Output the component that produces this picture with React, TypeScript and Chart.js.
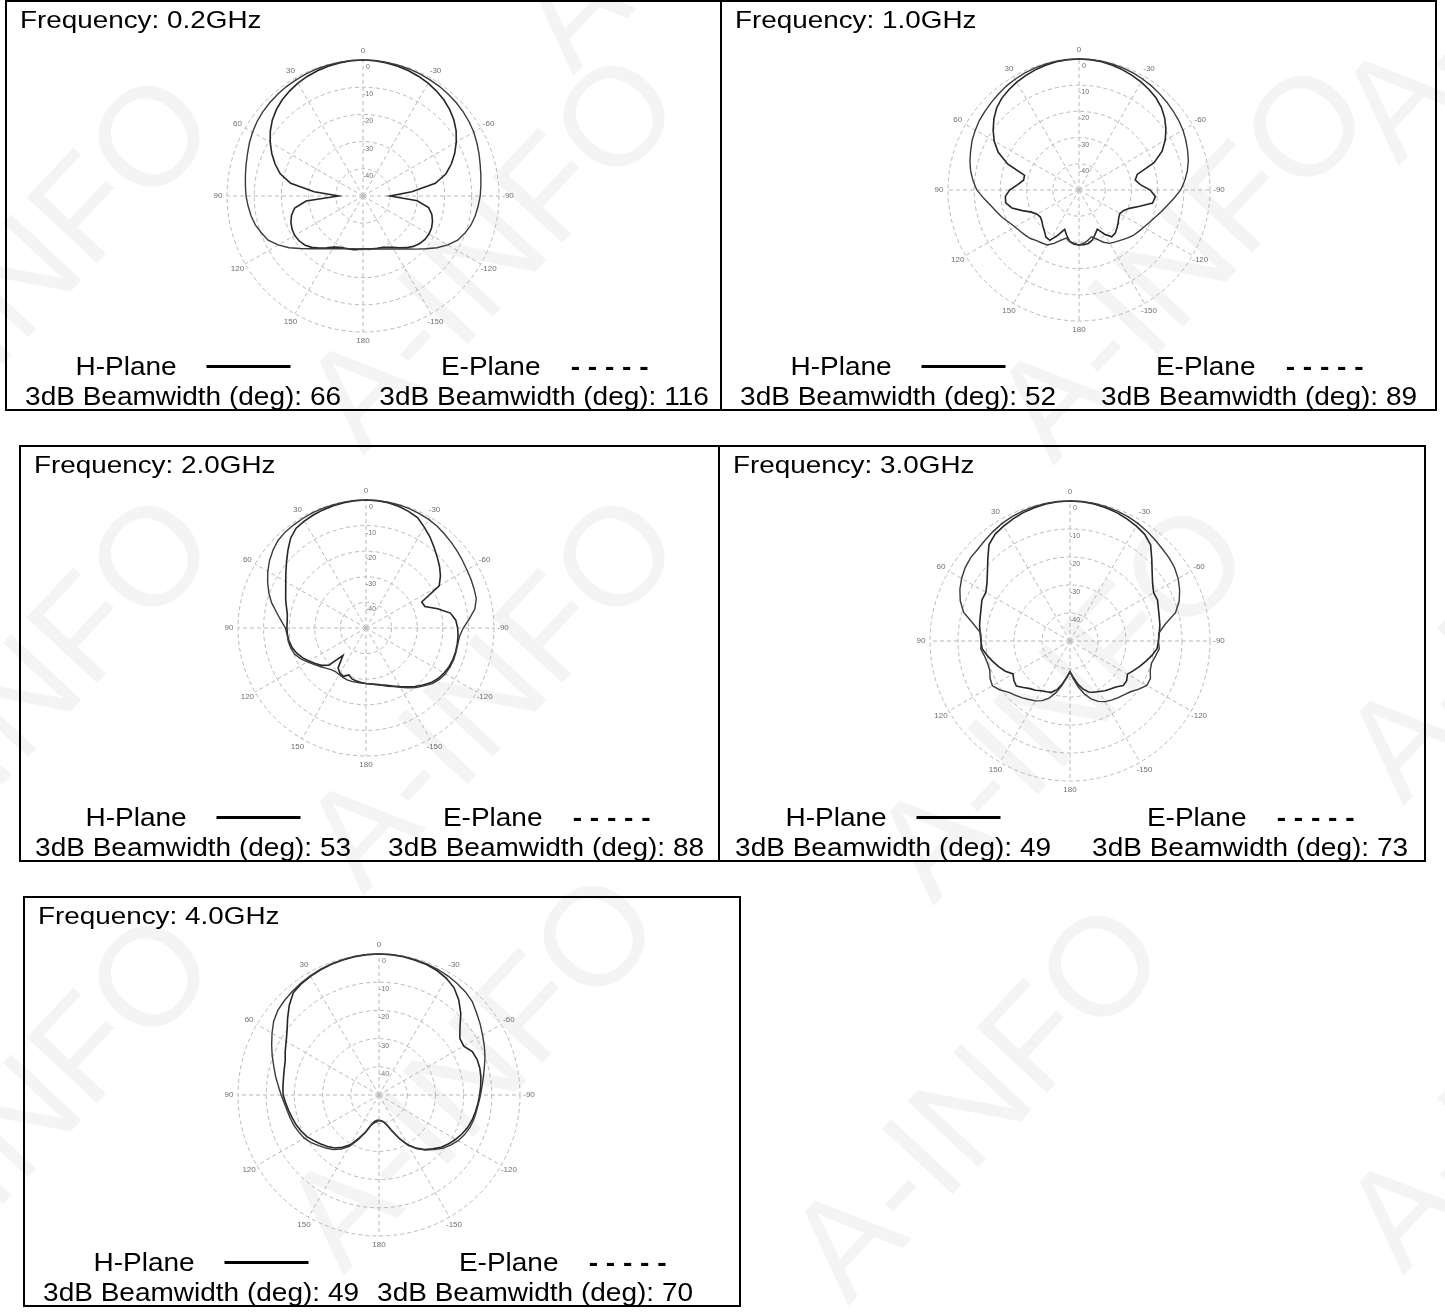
import React, { useEffect, useRef } from 'react';
import { Chart, registerables } from 'chart.js';

Chart.register(...registerables);

// Angle categories in degrees, in the order the radar draws them (clockwise from the top):
// 0, -5, ..., -175, 180, 175, ..., 5
const ANGLES: number[] = Array.from({ length: 72 }, (_, i) => (i <= 35 ? (i === 0 ? 0 : -5 * i) : 360 - 5 * i));
const ANGLE_TICKS = [0, -30, -60, -90, -120, -150, 180, 150, 120, 90, 60, 30];
const DB_TICKS = [0, -10, -20, -30, -40];
const DB_MIN = -50;
const DB_MAX = 0;

const FREQUENCIES = ['0.2', '1.0', '2.0', '3.0', '4.0'];
const H_BEAMWIDTH = [66, 52, 53, 49, 49];
const E_BEAMWIDTH = [116, 89, 88, 73, 70];

// Relative gain (dB), one value per entry of ANGLES
const H_02 = [0, -0.1, -0.3, -0.6, -1, -1.5, -2.1, -2.9, -3.8, -5, -6.4, -8.2, -10.4, -12.8, -15.4, -18.4, -23, -32, -40, -30, -25.5, -23.8, -22.8, -22.2, -22, -22.2, -22.8, -23.8, -25.2, -26.8, -28.2, -29.2, -29.8, -30.1, -30.3, -30.5, -30.6,
  -30.3, -30, -29.8, -29.6, -29.2, -28.3, -26.8, -25, -23.3, -22, -21.3, -21, -21.2, -21.8, -22.8, -24.5, -29, -41, -32, -23, -18.5, -15.6, -13, -10.6, -8.4, -6.5, -5, -3.8, -2.9, -2.1, -1.5, -1, -0.6, -0.3, -0.1];
const E_02 = [0, 0, -0.1, -0.2, -0.3, -0.5, -0.7, -0.9, -1.2, -1.5, -1.9, -2.4, -3.0, -3.8, -4.6, -5.4, -6.0, -6.5, -6.9, -7.5, -8.1, -8.9, -10.1, -11.6, -14, -16.8, -19.8, -22.4, -24.6, -26.2, -27.5, -28.5, -29.3, -29.8, -30.2, -30.5, -30.6,
  -30.5, -30.3, -29.9, -29.4, -28.6, -27.6, -26.3, -24.7, -22.6, -20, -16.8, -14, -11.5, -10.3, -9.0, -8.2, -7.6, -7.0, -6.6, -6.1, -5.5, -4.8, -3.9, -3.1, -2.4, -1.9, -1.5, -1.2, -0.9, -0.7, -0.5, -0.3, -0.2, -0.1, 0];

const H_10 = [0, -0.1, -0.3, -0.7, -1.2, -1.8, -2.5, -3.3, -4.2, -5.5, -7.3, -9.5, -12, -15, -19.5, -27, -28.2, -26.5, -22.8, -20.7, -21.5, -26, -29.5, -31.3, -32, -31.5, -30.5, -29.5, -28.5, -28.2, -30.5, -33.5, -32, -30.2, -29.3, -29, -29,
  -29.2, -30, -32, -34, -31, -27.8, -28, -29.5, -30.5, -31.5, -32, -31.5, -30, -27, -23.5, -21.6, -21.8, -23.5, -26.5, -28.5, -28.5, -21, -16, -12.6, -10, -7.6, -5.6, -4.2, -3.3, -2.5, -1.8, -1.2, -0.7, -0.3, -0.1];
const E_10 = [0, 0, -0.1, -0.3, -0.5, -0.8, -1.2, -1.6, -2.1, -2.6, -3.1, -3.6, -4.2, -5, -5.9, -6.8, -8, -9.5, -11.2, -13.6, -15.8, -17.6, -19.2, -20.5, -21.5, -22.3, -23, -24, -25, -25.8, -26.5, -28, -30, -31.5, -30.5, -29.5, -29,
  -29.5, -30, -31, -29.5, -27.5, -25.8, -25.3, -24.8, -23.8, -23.2, -22.6, -21.8, -20.6, -19, -17.5, -15.8, -13.5, -11, -9.4, -8, -6.9, -6, -5, -4.3, -3.6, -3.2, -2.7, -2.2, -1.6, -1.2, -0.8, -0.5, -0.3, -0.1, 0];

const H_20 = [0, -0.1, -0.3, -0.8, -1.5, -2.4, -4.5, -6.5, -8.7, -10.7, -12.5, -14.5, -17, -26, -25.5, -21, -16.5, -14.8, -14.2, -13.9, -13.8, -13.8, -13.9, -14.2, -14.8, -15.6, -16.8, -18.5, -20.2, -22, -23.6, -25, -26.2, -27, -27.7, -28.1, -28.3,
  -28.6, -29, -29.3, -30.5, -29.2, -29.6, -31, -36, -29.5, -27.3, -25.8, -24.2, -22.6, -21.2, -20.2, -19.5, -19.2, -19.1, -19.1, -18.8, -17.8, -16.6, -15.4, -13.8, -11.8, -9.5, -6.9, -4.2, -2.4, -1.8, -1.3, -0.9, -0.6, -0.3, -0.1];
const E_20 = [0, 0, -0.1, -0.2, -0.4, -0.7, -1.0, -1.5, -2.2, -2.8, -3.4, -4.0, -4.5, -4.8, -5.1, -5.4, -6.8, -9.5, -12, -13.3, -13.6, -13.6, -13.6, -13.8, -14.2, -15, -16.2, -18, -19.6, -21.5, -23.2, -24.8, -25.8, -26.8, -27.5, -28, -28.3,
  -28.4, -28.5, -28.4, -28.4, -28.7, -29, -29.2, -28.8, -27.8, -26.6, -25.2, -23.5, -21.7, -20.3, -19.6, -19.2, -19.1, -18.5, -16.7, -14.5, -11.8, -9.6, -7.6, -5.7, -4.0, -2.6, -1.5, -1.0, -0.8, -0.6, -0.4, -0.3, -0.2, -0.1, 0];

const H_30 = [0, -0.1, -0.3, -0.7, -1.2, -1.9, -2.6, -3.5, -5.2, -8.7, -11.7, -14, -15.5, -15.5, -16.4, -17, -17.4, -18, -18.4, -18.8, -20.3, -22, -23.5, -25, -26.3, -25.3, -25.2, -26.8, -27.6, -28.3, -29.2, -29.8, -30.6, -32.3, -34.5, -37, -39,
  -37, -34.5, -32, -30.5, -30, -29.5, -28.5, -27.8, -26.5, -25, -25.5, -26.5, -24.5, -23, -21.5, -20, -18.5, -18.2, -17.8, -17.2, -16.8, -16.2, -15.3, -15.3, -13.8, -11.5, -8.5, -5, -3.4, -2.6, -1.9, -1.2, -0.7, -0.3, -0.1];
const E_30 = [0, 0, -0.1, -0.3, -0.6, -1, -1.5, -2.1, -2.8, -3.4, -3.8, -4.4, -5.4, -6.8, -8.5, -11, -15.5, -18.2, -18.4, -18, -19, -19.8, -19.5, -18.3, -18.3, -20, -21.8, -22.8, -23.5, -24.2, -25, -26.2, -28, -30.5, -33.5, -36.5, -39,
  -37, -34, -31, -28.3, -26.5, -25.3, -24.5, -23.5, -22.5, -21.5, -19.5, -18, -18.5, -19.5, -19.5, -19, -18, -18.3, -18, -15, -10.7, -8.3, -6.6, -5.3, -4.3, -3.7, -3.5, -2.9, -2.2, -1.5, -1, -0.6, -0.3, -0.1, 0];

const H_40 = [0, -0.1, -0.2, -0.5, -0.8, -1.3, -2.2, -3.6, -6, -9, -12.5, -15, -15.3, -13.5, -13, -13, -13.3, -13.8, -14.3, -14.8, -15.3, -15.8, -16.5, -17.5, -18.6, -19.8, -21.2, -23, -24.8, -27, -29.6, -33, -36.5, -39, -40.3, -40.8, -41,
  -40.5, -40, -38.8, -36, -33, -29.6, -27.4, -25.5, -24.2, -23, -21.8, -20.5, -19.6, -18.8, -18.2, -17.5, -16.8, -16, -15.8, -15.6, -15.2, -14.6, -13.3, -12, -10.2, -7.7, -5, -2.7, -1.9, -1.4, -1, -0.7, -0.4, -0.2, -0.1];
const E_40 = [0, 0, -0.1, -0.3, -0.5, -0.8, -1.2, -1.7, -2.3, -3.2, -4.8, -6.2, -7.6, -8.8, -10, -11.3, -12.4, -13.3, -14, -14.6, -15, -15.3, -15.8, -16.6, -17.6, -19, -20.6, -22.6, -24.5, -26.8, -29.5, -33, -36.3, -38.8, -40.2, -40.8, -41,
  -41, -40.5, -39, -35.8, -32.5, -29, -26.6, -24.7, -23.4, -22.1, -20.6, -19.4, -18.7, -18, -17.5, -17, -16.3, -15.3, -14.2, -12.8, -11.4, -9.7, -8, -6.2, -4.4, -3.2, -2.6, -2.1, -1.6, -1.2, -0.8, -0.5, -0.3, -0.1, 0];

const H_DATA = [H_02, H_10, H_20, H_30, H_40];
const E_DATA = [E_02, E_10, E_20, E_30, E_40];

// Layout (page pixels): box [left, top, width, height], plot centre and 0 dB radius,
// horizontal shift of the second beamwidth text
const PANELS = [
  { box: [5, 0, 717, 411], cx: 363, cy: 196, r0: 136, shift2: 0 },
  { box: [720, 0, 717, 411], cx: 1079, cy: 190, r0: 131, shift2: 0 },
  { box: [19, 445, 701, 417], cx: 366, cy: 628, r0: 128, shift2: 0 },
  { box: [718, 445, 708, 417], cx: 1070, cy: 641, r0: 140, shift2: 0 },
  { box: [23, 896, 718, 411], cx: 379, cy: 1095, r0: 141, shift2: -28 },
];

const WATERMARKS = [
  [490, 250], [1180, 260], [25, 270], [1525, -40], [700, -130],
  [25, 690], [490, 690], [1060, 700], [1530, 600],
  [25, 1110], [470, 1070], [975, 1100], [1530, 1070],
];

const FONT = '"Liberation Sans", Arial, Helvetica, sans-serif';
const PAD = 22;
const SX = 1.12;

const polarLabels = {
  id: 'polarLabels',
  afterDraw(chart: any) {
    const s = chart.scales.r;
    const ctx = chart.ctx;
    ctx.save();
    ctx.fillStyle = '#6f6f6f';
    ctx.font = `8px ${FONT}`;
    ctx.textAlign = 'center';
    ctx.textBaseline = 'middle';
    ANGLES.forEach((a, i) => {
      if (ANGLE_TICKS.includes(a)) {
        const p = s.getPointPosition(i, s.drawingArea + 9);
        ctx.fillText(String(a), p.x, p.y);
      }
    });
    ctx.font = `7px ${FONT}`;
    DB_TICKS.forEach((v) => {
      const d = s.getDistanceFromCenterForValue(v);
      ctx.fillText(String(v), s.xCenter + 5, s.yCenter - d + 7);
    });
    ctx.restore();
  },
};

function PolarPlot({ idx }: { idx: number }) {
  const ref = useRef<HTMLCanvasElement | null>(null);
  const { cx, cy, r0 } = PANELS[idx];
  const size = 2 * r0 + 2 * PAD;
  useEffect(() => {
    if (!ref.current) return;
    const chart = new Chart(ref.current, {
      type: 'radar',
      data: {
        labels: ANGLES,
        datasets: [
          { label: 'E-Plane', data: E_DATA[idx], borderColor: '#3a3a3a', borderWidth: 1.4, pointRadius: 0, fill: false, tension: 0 },
          { label: 'H-Plane', data: H_DATA[idx], borderColor: '#262626', borderWidth: 1.6, pointRadius: 0, fill: false, tension: 0 },
        ],
      },
      options: {
        animation: false,
        responsive: false,
        maintainAspectRatio: false,
        layout: { padding: PAD },
        plugins: { legend: { display: false }, tooltip: { enabled: false }, title: { display: false } },
        scales: {
          r: {
            min: DB_MIN,
            max: DB_MAX,
            ticks: { stepSize: 10, display: false },
            grid: { circular: true, color: '#b8b8b8', lineWidth: 1 },
            border: { dash: [4, 3] },
            angleLines: {
              display: true,
              color: '#b8b8b8',
              lineWidth: (c: any) => (ANGLE_TICKS.includes(ANGLES[c.index]) ? 1 : 0),
              borderDash: [4, 3],
            },
            pointLabels: { display: false },
          },
        },
      } as any,
      plugins: [polarLabels],
    });
    return () => chart.destroy();
  }, [idx]);
  return (
    <canvas
      ref={ref}
      width={size}
      height={size}
      style={{ position: 'absolute', left: cx - PAD - r0, top: cy - PAD - r0, width: size, height: size }}
    />
  );
}

const textStyle: React.CSSProperties = {
  fontFamily: FONT,
  fontSize: 25,
  lineHeight: '26px',
  color: '#000',
  whiteSpace: 'nowrap',
};

const scaled: React.CSSProperties = {
  display: 'inline-flex',
  alignItems: 'center',
  transform: `scaleX(${SX})`,
  transformOrigin: 'center center',
};

function PanelBox({ idx }: { idx: number }) {
  const [L, T, W, H] = PANELS[idx].box;
  const shift2 = PANELS[idx].shift2;
  const inner = H - 4;
  const colL: React.CSSProperties = { flex: 1, display: 'flex', justifyContent: 'center', alignItems: 'center', paddingRight: 10 };
  const colR: React.CSSProperties = { flex: 1, display: 'flex', justifyContent: 'center', alignItems: 'center' };
  return (
    <div style={{ position: 'absolute', left: L, top: T, width: W, height: H, border: '2px solid #000', boxSizing: 'border-box' }}>
      <div
        style={{
          ...textStyle,
          fontSize: 24,
          position: 'absolute',
          left: 13,
          top: 5,
          transform: 'scaleX(1.16)',
          transformOrigin: 'left center',
        }}
      >
        Frequency: {FREQUENCIES[idx]}GHz
      </div>
      <div style={{ position: 'absolute', left: 0, right: 0, top: inner - 43 - 13, height: 26, display: 'flex' }}>
        <div style={colL}>
          <div style={scaled}>
            <span style={textStyle}>H-Plane</span>
            <span style={{ display: 'inline-block', width: 75, height: 3, background: '#000', marginLeft: 27 }} />
          </div>
        </div>
        <div style={colR}>
          <div style={scaled}>
            <span style={textStyle}>E-Plane</span>
            <span style={{ ...textStyle, marginLeft: 27, fontWeight: 'bold' }}>- - - - -</span>
          </div>
        </div>
      </div>
      <div style={{ position: 'absolute', left: 0, right: 0, top: inner - 13 - 13, height: 26, display: 'flex' }}>
        <div style={colL}>
          <div style={{ ...scaled, ...textStyle }}>3dB Beamwidth (deg): {H_BEAMWIDTH[idx]}</div>
        </div>
        <div style={colR}>
          <div style={{ ...scaled, ...textStyle, position: 'relative', left: shift2 }}>3dB Beamwidth (deg): {E_BEAMWIDTH[idx]}</div>
        </div>
      </div>
    </div>
  );
}

export default function App() {
  return (
    <div style={{ position: 'absolute', left: 0, top: 0, width: 1445, height: 1315, overflow: 'hidden', background: '#fff' }}>
      {WATERMARKS.map(([x, y], i) => (
        <div
          key={'w' + i}
          style={{
            position: 'absolute',
            left: x,
            top: y,
            transform: 'translate(-50%, -50%) rotate(-47deg)',
            fontFamily: FONT,
            fontSize: 140,
            lineHeight: 1,
            color: '#f4f4f4',
            whiteSpace: 'nowrap',
          }}
        >
          A-INFO
        </div>
      ))}
      {PANELS.map((_, i) => (
        <PolarPlot key={'p' + i} idx={i} />
      ))}
      {PANELS.map((_, i) => (
        <PanelBox key={'b' + i} idx={i} />
      ))}
    </div>
  );
}
